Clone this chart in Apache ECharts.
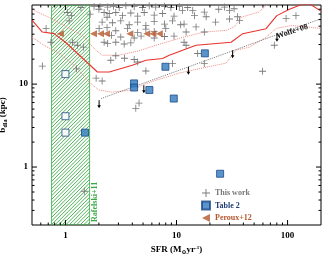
<!DOCTYPE html>
<html><head><meta charset="utf-8">
<script src="https://cdn.jsdelivr.net/npm/echarts@6/dist/echarts.min.js"></script>
<style>html,body{margin:0;padding:0;background:#fff}#c{width:336px;height:256px}</style>
</head><body><div id="c"></div>
<script>
const xRange=[0.5,200];
const yRange=[0.2,90];
const xMajor=[1,10,100];
const xMinor=[0.6,0.7,0.8,0.9,2,3,4,5,6,7,8,9,20,30,40,50,60,70,80,90];
const yMajor=[1,10];
const yMinor=[0.3,0.4,0.5,0.6,0.7,0.8,0.9,2,3,4,5,6,7,8,9,20,30,40,50,60,70,80];

const thisWork=[[0.62,16.5],[0.67,47],[0.74,32],[1.48,0.51],
[1.04,73],[1.13,67],[1.08,58],[1.38,84],[1.26,15.3],[1.16,32],[1.28,29.4],[1.45,28],
[1.67,70],[1.81,86],[2.05,86],[2.23,73],[2.37,64],[2.14,56],[2.01,47],[2.37,48],[2.23,32],[2.6,38.8],[2.0,80],[1.89,11.8],[2.14,10.9],
[2.4,85],[2.71,87],[3.05,84],[3.5,88],[4.16,86],[4.95,84],[5.68,88],[6.5,85],[7.8,87],[8.9,84],[10.6,86],
[2.48,71],[2.84,73],[3.27,67],[3.88,72],[4.47,66],[5.12,73],[6.3,68],[7.5,71],[9.5,66],
[2.65,55],[3.15,58],[3.75,52],[4.47,56],[5.3,51],[6.3,57],[7.8,53],[9.2,58],[10.9,52],
[2.84,44],[3.62,47],[4.47,42],[5.3,46],[6.3,43],[8.0,47],
[3.15,37],[4.16,36],[4.8,38],[6.3,36],[7.8,37.5],[9.5,38],
[2.4,31],[2.84,32],[3.38,30.5],[3.88,31.5],
[2.56,19.4],[4.16,19.8],[4.47,18.5],[9.2,17.7],[5.3,14.4],[4.3,5.1],[4.6,5.9],[17.8,17.7],[15.5,23.4],
[11.3,77],[12.6,84],[14,77],[14.5,67],[17.8,74],[18.5,65],[11.7,53],[15,49],[22.5,56],[30,77],[30,61],[35.5,65],[37,58.7],[33,81],[12.2,42.5],[17.8,42.5],[11.7,32],[12.2,29.4],[27,85],[24,80],
[97,62],[119,67],[76,29.4],[59.5,14.3],[2.84,22],[3.4,20.5]];
const table2Filled=[[1.5,2.6],[4.15,10.2],[4.15,9.1],[5.7,8.5],[7.95,16.2],[18,23.5],[9.45,6.7],[24.7,0.83]];
const table2Open=[[1,13.2],[1,4.1],[1,2.6]];
const peroux=[[0.9,40.4],[1.79,40.4],[2.07,40.4],[2.34,40.4],[3.8,40.4],[5.4,40.4],[6.13,40.4],[7.0,40.4]];
const modelMid=[[0.5,59],[0.62,42.5],[0.79,40.6],[1.0,32],[1.94,14.0],[2.48,14.0],[4.0,16.9],[5.3,19.4],[7.5,20.4],[8.6,22.3],[15,29.4],[31,32],[39.5,40.6],[64,46.6],[80,67],[104,80],[130,90],[160,92],[200,76]];
const modelUpper=[[0.5,79],[0.71,64],[1.0,50],[1.42,38.8],[1.88,25.6],[2.15,22.3],[3.0,22.3],[4.5,25],[6.5,29.4],[11.7,37],[17.8,42.5],[28,44.5],[33,49],[39,64.5],[55,74],[62,85],[70,100]];
const modelLower=[[0.5,37],[0.64,29.4],[0.88,23.5],[1.25,16],[1.63,10.6],[2.0,8.5],[2.63,8.0],[4.0,8.5],[4.9,9.7],[6.6,11.2],[8.1,12.1],[10.6,13.6],[18.5,16],[28,17.9],[34,25.6],[45,27.8],[64,36.6],[79,47],[110,51],[200,47]];
const wolfeLine=[[2.1,6.7],[200,61.5]];
const upperLimits=[[2.01,6.4],[5.08,9.7],[12.8,16.2],[32,25.6],[80.3,40.6]];
const rafelskiBand=[0.75,1.65];
const rafelskiLabel={text:'Rafelski+11',pos:[1.84,0.38]};
const wolfeLabel={text:'Wolfe+08',pos:[110,43]};

const SERIF='"Liberation Serif","DejaVu Serif",serif';
const GREEN='#3aa845';
const PLUS='path://M4.4,0H5.6V4.4H10V5.6H5.6V10H4.4V5.6H0V4.4H4.4Z';
const TRI='path://M0,5L10,0L10,10Z';

const tickData=[];
xMajor.forEach(v=>tickData.push([v,1,0,5]));
xMinor.forEach(v=>tickData.push([v,1,0,2.5]));
yMajor.forEach(v=>tickData.push([1,v,1,5]));
yMinor.forEach(v=>tickData.push([1,v,1,2.5]));

function xAx(){
 return {type:'log',logBase:10,min:xRange[0],max:xRange[1],position:'bottom',
  axisLine:{show:false},axisTick:{show:false},
  axisLabel:{show:true,customValues:xMajor,margin:6,color:'#000',fontFamily:SERIF,fontWeight:'bold',fontSize:9},
  splitLine:{show:false},minorTick:{show:false},
  name:'SFR (M{sub|⊙}yr{sup|-1})',nameLocation:'middle',nameGap:16,
  nameTextStyle:{color:'#000',fontFamily:SERIF,fontWeight:'bold',fontSize:9,
   rich:{sub:{fontFamily:SERIF,fontWeight:'bold',fontSize:6,padding:[5,0,0,0]},sup:{fontFamily:SERIF,fontWeight:'bold',fontSize:5,padding:[0,0,5,0]}}}
 };
}
function yAx(){
 return {type:'log',logBase:10,min:yRange[0],max:yRange[1],position:'left',
  axisLine:{show:false},axisTick:{show:false},
  axisLabel:{show:true,customValues:yMajor,margin:4,color:'#000',fontFamily:SERIF,fontWeight:'bold',fontSize:9},
  splitLine:{show:false},minorTick:{show:false},
  name:'b{sub|dla} (kpc)',nameLocation:'middle',nameGap:17,
  nameTextStyle:{color:'#000',fontFamily:SERIF,fontWeight:'bold',fontSize:9,
   rich:{sub:{fontFamily:SERIF,fontWeight:'bold',fontSize:6,padding:[5,0,0,0]}}}
 };
}

const chart=echarts.init(document.getElementById('c'),null,{renderer:'canvas'});
chart.setOption({
 animation:false,
 grid:{left:32,right:15,top:5,bottom:31,containLabel:false,outerBoundsMode:'none',show:true,borderColor:'#000',borderWidth:1,backgroundColor:'transparent'},
 xAxis:xAx(),
 yAxis:yAx(),
 legend:{orient:'vertical',left:201,top:189,padding:0,itemWidth:8,itemHeight:8,itemGap:3.5,selectedMode:false,
  textStyle:{fontFamily:SERIF,fontWeight:'bold',fontSize:8},
  data:[{name:'This work',textStyle:{color:'#777'}},{name:'Table 2',textStyle:{color:'#1f3b73'}},{name:'Peroux+12',textStyle:{color:'#b4562c'}}]},
 series:[
  {type:'custom',name:'band',z:1,data:[rafelskiBand],encode:{x:[0,1]},clip:true,
   renderItem:function(p,api){
    const a=api.coord([api.value(0),yRange[1]]);const b=api.coord([api.value(1),yRange[0]]);
    const x0=a[0],y0=a[1],x1=b[0],y1=b[1],s=3.6;
    const ch=[{type:'rect',shape:{x:x0,y:y0,width:x1-x0,height:y1-y0},style:{fill:'none',stroke:GREEN,lineWidth:0.8}}];
    for(let c=x0+y0+s;c<x1+y1;c+=s){
      const xa=Math.max(x0,c-y1),xb=Math.min(x1,c-y0);
      if(xb>xa) ch.push({type:'line',shape:{x1:xa,y1:c-xa,x2:xb,y2:c-xb},style:{stroke:GREEN,lineWidth:0.9}});
    }
    return {type:'group',children:ch};
   }},
  {type:'line',name:'upper',data:modelUpper,showSymbol:false,symbol:'none',clip:true,z:2,lineStyle:{color:'#f08a84',width:1,type:'dotted'}},
  {type:'line',name:'lower',data:modelLower,showSymbol:false,symbol:'none',clip:true,z:2,lineStyle:{color:'#f08a84',width:1,type:'dotted'}},
  {type:'line',name:'mid',data:modelMid,showSymbol:false,symbol:'none',clip:true,z:2,lineStyle:{color:'#e8322c',width:1.1}},
  {type:'line',name:'wolfe',data:wolfeLine,showSymbol:false,symbol:'none',clip:true,z:2,lineStyle:{color:'#777',width:1,type:'dotted'}},
  {type:'scatter',name:'This work',data:thisWork,symbol:PLUS,symbolSize:7,z:3,itemStyle:{color:'#7a7a7a',opacity:1}},
  {type:'custom',name:'limits',z:4,data:upperLimits,renderItem:function(p,api){
    const c=api.coord([api.value(0),api.value(1)]);
    return {type:'group',children:[
     {type:'line',shape:{x1:c[0],y1:c[1],x2:c[0],y2:c[1]+6},style:{stroke:'#000',lineWidth:1}},
     {type:'polygon',shape:{points:[[c[0]-1.8,c[1]+5],[c[0]+1.8,c[1]+5],[c[0],c[1]+8]]},style:{fill:'#000'}}]};
  }},
  {type:'scatter',name:'Peroux+12',data:peroux,symbol:TRI,symbolSize:[7,7],z:5,itemStyle:{color:'#b4562c'}},
  {type:'scatter',name:'Table 2',data:table2Filled,symbol:'rect',symbolSize:7,z:6,itemStyle:{color:'#2f7abf',borderColor:'#1b4a86',borderWidth:1}},
  {type:'scatter',name:'Table 2 open',data:table2Open,symbol:'rect',symbolSize:7,z:6,itemStyle:{color:'#fff',borderColor:'#1b4a86',borderWidth:1}},
  {type:'custom',name:'texts',z:7,clip:false,data:[rafelskiLabel.pos,wolfeLabel.pos],renderItem:function(p,api){
    const c=api.coord([api.value(0),api.value(1)]);
    const isR=p.dataIndex===0;
    return {type:'text',x:c[0],y:c[1],rotation:isR?Math.PI/2:18*Math.PI/180,
     style:{text:isR?rafelskiLabel.text:wolfeLabel.text,fill:isR?GREEN:'#111',font:'bold 8px '+SERIF,align:'center',verticalAlign:'middle'}};
  }},
  {type:'custom',name:'ticks',z:8,clip:false,silent:true,data:tickData,renderItem:function(p,api){
    const isY=api.value(2)===1,L=api.value(3);
    if(!isY){
      const v=api.value(0);const b=api.coord([v,yRange[0]]);const t=api.coord([v,yRange[1]]);
      return {type:'group',children:[
       {type:'line',shape:{x1:b[0],y1:b[1],x2:b[0],y2:b[1]-L},style:{stroke:'#000',lineWidth:1}},
       {type:'line',shape:{x1:t[0],y1:t[1],x2:t[0],y2:t[1]+L},style:{stroke:'#000',lineWidth:1}}]};
    }
    const v=api.value(1);const l=api.coord([xRange[0],v]);const r=api.coord([xRange[1],v]);
    return {type:'group',children:[
     {type:'line',shape:{x1:l[0],y1:l[1],x2:l[0]+L,y2:l[1]},style:{stroke:'#000',lineWidth:1}},
     {type:'line',shape:{x1:r[0],y1:r[1],x2:r[0]-L,y2:r[1]},style:{stroke:'#000',lineWidth:1}}]};
  }}
 ]
});
</script></body></html>
